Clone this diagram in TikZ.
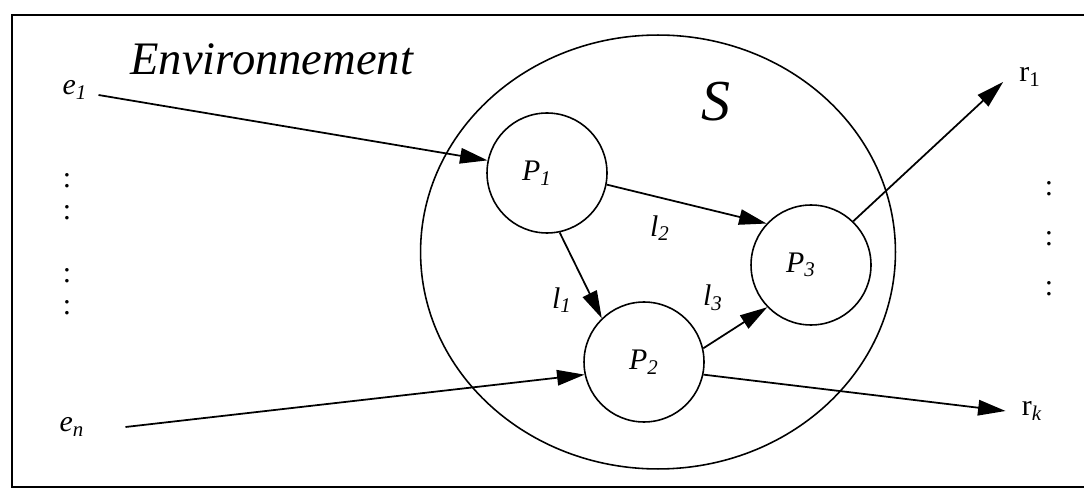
\documentclass[tikz,border=0pt]{standalone}
\usepackage{fontspec}
\setmainfont{Liberation Serif}
\usetikzlibrary{arrows.meta,shapes.geometric}

\begin{document}
\begin{tikzpicture}[x=0.02cm, y=-0.02cm,
    proc/.style={circle, draw, line width=0.9pt, minimum size=2.4cm, inner sep=0pt},
    lbl/.style={font=\fontsize{17}{20}\selectfont},
    flow/.style={-{Triangle[length=5.5mm,width=3.1mm]}, line width=1pt}]
    \useasboundingbox (0,0) rectangle (1084,489);
    \draw[line width=1.2pt] (1084,15) -- (12,15) -- (12,487) -- (1084,487);

    % systeme S
    \node[ellipse, draw, line width=0.9pt, minimum width=9.5cm, minimum height=8.68cm] (sys) at (658,252) {};
    \node[font=\fontsize{33}{38}\selectfont\itshape] (s) at (716,102) {S};
    \node[font=\fontsize{26.5}{30}\selectfont\itshape, anchor=base west, inner sep=0pt] (env) at (130,75) {Environnement};

    % processus
    \node[proc, lbl] (p1) at (547,173) {\hspace*{-0.4cm}\textit{P\textsubscript{1}}};
    \node[proc, lbl] (p2) at (644,362) {\textit{P\textsubscript{2}}};
    \node[proc, lbl] (p3) at (811,265) {\hspace*{-0.4cm}\textit{P\textsubscript{3}}};

    % entrees et sorties
    \node[lbl] (e1) at (75,90) {\textit{e\textsubscript{1}}};
    \node[lbl] (en) at (72,427) {\textit{e\textsubscript{n}}};
    \node[lbl] (r1) at (1030,77) {r\textsubscript{1}};
    \node[lbl] (rk) at (1032,411) {r\textsubscript{\textit{k}}};

    \node[lbl] (d1) at (67,181) {:};
    \node[lbl] (d2) at (67,213) {:};
    \node[lbl] (d3) at (67,276) {:};
    \node[lbl] (d4) at (67,308) {:};
    \node[lbl] (d5) at (1049,189) {:};
    \node[lbl] (d6) at (1049,239) {:};
    \node[lbl] (d7) at (1049,289) {:};

    % liens
    \node[lbl] (l1) at (562,300) {\textit{l\textsubscript{1}}};
    \node[lbl] (l2) at (660,228) {\textit{l\textsubscript{2}}};
    \node[lbl] (l3) at (713,298) {\textit{l\textsubscript{3}}};

    \draw[flow] ([xshift=1mm,yshift=-1mm]e1.east) -- (p1.168);
    \draw[flow] ([xshift=7mm]en.east) -- (p2.192);
    \draw[flow] (p1.282) -- (p2.134);
    \draw[flow] (p1.-11) -- (p3.137);
    \draw[flow] (p2.13) -- (p3.224);
    \draw[flow] (p3.46) -- ([xshift=-2mm,yshift=-1mm]r1.west);
    \draw[flow] (p2.-12) -- ([xshift=-2mm]rk.west);
\end{tikzpicture}
\end{document}
